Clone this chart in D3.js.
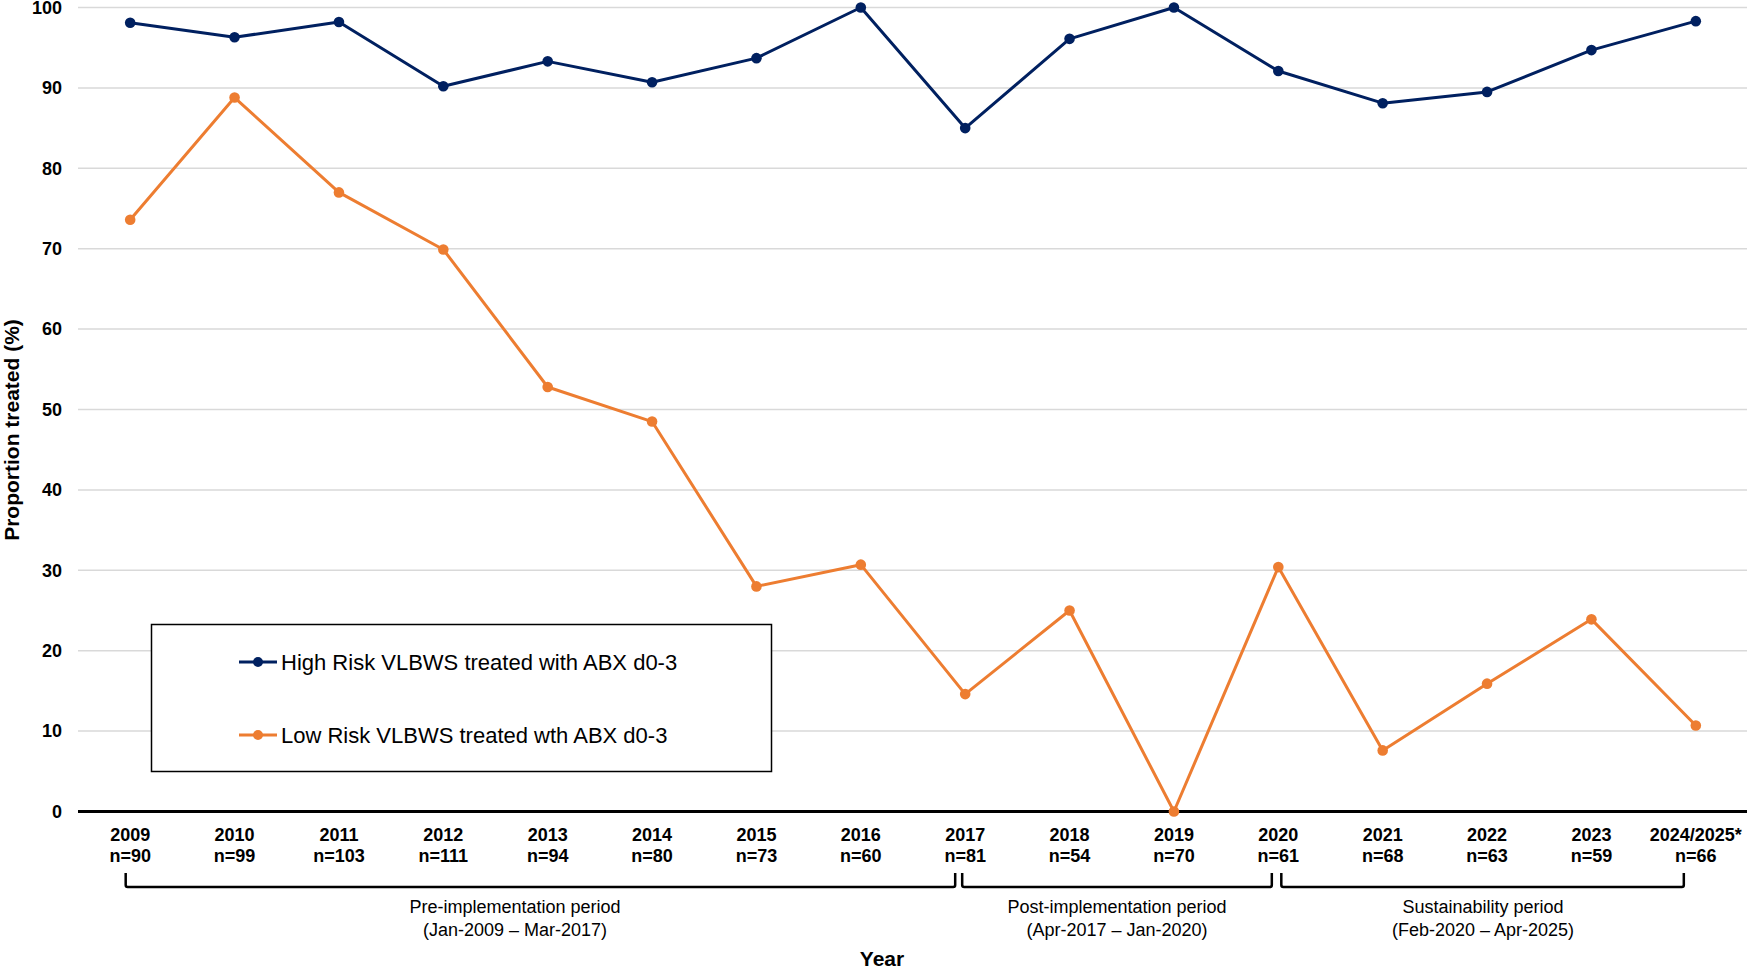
<!DOCTYPE html>
<html>
<head>
<meta charset="utf-8">
<script src="https://cdn.jsdelivr.net/npm/d3@7"></script>
<style>
  body { margin: 0; background: #fff; }
  text { font-family: "Liberation Sans", Arial, sans-serif; }
</style>
</head>
<body>
<script>
// chart data
var years = ["2009", "2010", "2011", "2012", "2013", "2014", "2015", "2016",
             "2017", "2018", "2019", "2020", "2021", "2022", "2023", "2024/2025*"];
var counts = ["n=90", "n=99", "n=103", "n=111", "n=94", "n=80", "n=73", "n=60",
              "n=81", "n=54", "n=70", "n=61", "n=68", "n=63", "n=59", "n=66"];
var highRisk = [98.1, 96.3, 98.2, 90.2, 93.3, 90.7, 93.7, 100,
                85.0, 96.1, 100, 92.1, 88.1, 89.5, 94.7, 98.3];
var lowRisk = [73.6, 88.8, 77.0, 69.9, 52.8, 48.5, 28.0, 30.7,
               14.6, 25.0, 0, 30.4, 7.6, 15.9, 23.9, 10.7];
var yTicks = [0, 10, 20, 30, 40, 50, 60, 70, 80, 90, 100];
var seriesNames = ["High Risk VLBWS treated with ABX d0-3", "Low Risk VLBWS treated wth ABX d0-3"];
var periodNames = ["Pre-implementation period", "Post-implementation period", "Sustainability period"];
var periodDates = ["(Jan-2009 \u2013 Mar-2017)", "(Apr-2017 \u2013 Jan-2020)", "(Feb-2020 \u2013 Apr-2025)"];
var periodFrom = ["2009", "2017", "2020"];
var periodTo = ["2017", "2020", "2024/2025*"];

(function() {
    var W = 1747, H = 969;
    var plotL = 78, plotR = 1748, plotT = 7.5, plotB = 811.5;
    var navy = "#002060", orange = "#ED7D31";

    var svg = d3.select("body").append("svg")
        .attr("width", W)
        .attr("height", H);

    var x = d3.scaleBand().domain(years).range([plotL, plotR]).padding(0);
    var y = d3.scaleLinear().domain([0, 100]).range([plotB, plotT]);
    var cx = function(d) { return x(d) + x.bandwidth() / 2; };

    // gridlines
    svg.append("g").selectAll("line")
        .data(yTicks.filter(function(t) { return t > 0; }))
        .enter().append("line")
        .attr("x1", plotL).attr("x2", W)
        .attr("y1", function(d) { return y(d); })
        .attr("y2", function(d) { return y(d); })
        .attr("stroke", "#d9d9d9")
        .attr("stroke-width", 1.5);

    // y tick labels
    svg.append("g").selectAll("text")
        .data(yTicks)
        .enter().append("text")
        .attr("x", 62)
        .attr("y", function(d) { return y(d); })
        .attr("dy", "0.35em")
        .attr("text-anchor", "end")
        .attr("font-size", 18)
        .attr("font-weight", "bold")
        .text(function(d) { return d; });

    // y title
    svg.append("text")
        .attr("transform", "translate(19,430) rotate(-90)")
        .attr("text-anchor", "middle")
        .attr("font-size", 21)
        .attr("font-weight", "bold")
        .text("Proportion treated (%)");

    // legend box (before series so it sits over the grid)
    var lg = svg.append("g");
    lg.append("rect")
        .attr("x", 151.5).attr("y", 624.5)
        .attr("width", 620).attr("height", 147)
        .attr("fill", "#fff")
        .attr("stroke", "#000")
        .attr("stroke-width", 1.5);
    [navy, orange].forEach(function(c, i) {
        var ly = 662 + i * 73;
        lg.append("line")
            .attr("x1", 239).attr("x2", 277)
            .attr("y1", ly).attr("y2", ly)
            .attr("stroke", c).attr("stroke-width", 3);
        lg.append("circle")
            .attr("cx", 258).attr("cy", ly).attr("r", 5)
            .attr("fill", c);
        lg.append("text")
            .attr("x", 281).attr("y", ly)
            .attr("dy", "0.35em")
            .attr("font-size", 22)
            .text(seriesNames[i]);
    });

    // zero axis
    svg.append("line")
        .attr("x1", plotL).attr("x2", W)
        .attr("y1", y(0)).attr("y2", y(0))
        .attr("stroke", "#000")
        .attr("stroke-width", 3);

    // x labels
    var xl = svg.append("g").selectAll("g")
        .data(years)
        .enter().append("g")
        .attr("transform", function(d) { return "translate(" + cx(d) + ",0)"; });
    xl.append("text")
        .attr("y", 841)
        .attr("text-anchor", "middle")
        .attr("font-size", 18)
        .attr("font-weight", "bold")
        .text(function(d) { return d; });
    xl.append("text")
        .attr("y", 862)
        .attr("text-anchor", "middle")
        .attr("font-size", 18)
        .attr("font-weight", "bold")
        .text(function(d, i) { return counts[i]; });

    // series
    var line = d3.line()
        .x(function(d, i) { return cx(years[i]); })
        .y(function(d) { return y(d); });

    [[highRisk, navy], [lowRisk, orange]].forEach(function(s) {
        svg.append("path")
            .datum(s[0])
            .attr("d", line)
            .attr("fill", "none")
            .attr("stroke", s[1])
            .attr("stroke-width", 3)
            .attr("stroke-linejoin", "round");
        svg.append("g").selectAll("circle")
            .data(s[0])
            .enter().append("circle")
            .attr("cx", function(d, i) { return cx(years[i]); })
            .attr("cy", function(d) { return y(d); })
            .attr("r", 5.3)
            .attr("fill", s[1]);
    });

    // period brackets
    var startOff = [-4.5, -3, 3], endOff = [-10, -6.5, -12];
    var labelX = [515, 1117, 1483];
    var bt = 873, bb = 887, r = 2;
    periodNames.forEach(function(name, i) {
        var x1 = cx(periodFrom[i]) + startOff[i];
        var x2 = cx(periodTo[i]) + endOff[i];
        svg.append("path")
            .attr("d", "M" + x1 + "," + bt + "V" + (bb - r) +
                  "Q" + x1 + "," + bb + " " + (x1 + r) + "," + bb +
                  "H" + (x2 - r) +
                  "Q" + x2 + "," + bb + " " + x2 + "," + (bb - r) +
                  "V" + bt)
            .attr("fill", "none")
            .attr("stroke", "#000")
            .attr("stroke-width", 2.5);
        svg.append("text")
            .attr("x", labelX[i]).attr("y", 913)
            .attr("text-anchor", "middle")
            .attr("font-size", 18)
            .text(name);
        svg.append("text")
            .attr("x", labelX[i]).attr("y", 936)
            .attr("text-anchor", "middle")
            .attr("font-size", 18)
            .text(periodDates[i]);
    });

    // x title
    svg.append("text")
        .attr("x", 882).attr("y", 966)
        .attr("text-anchor", "middle")
        .attr("font-size", 21)
        .attr("font-weight", "bold")
        .text("Year");
}());
</script>
</body>
</html>
